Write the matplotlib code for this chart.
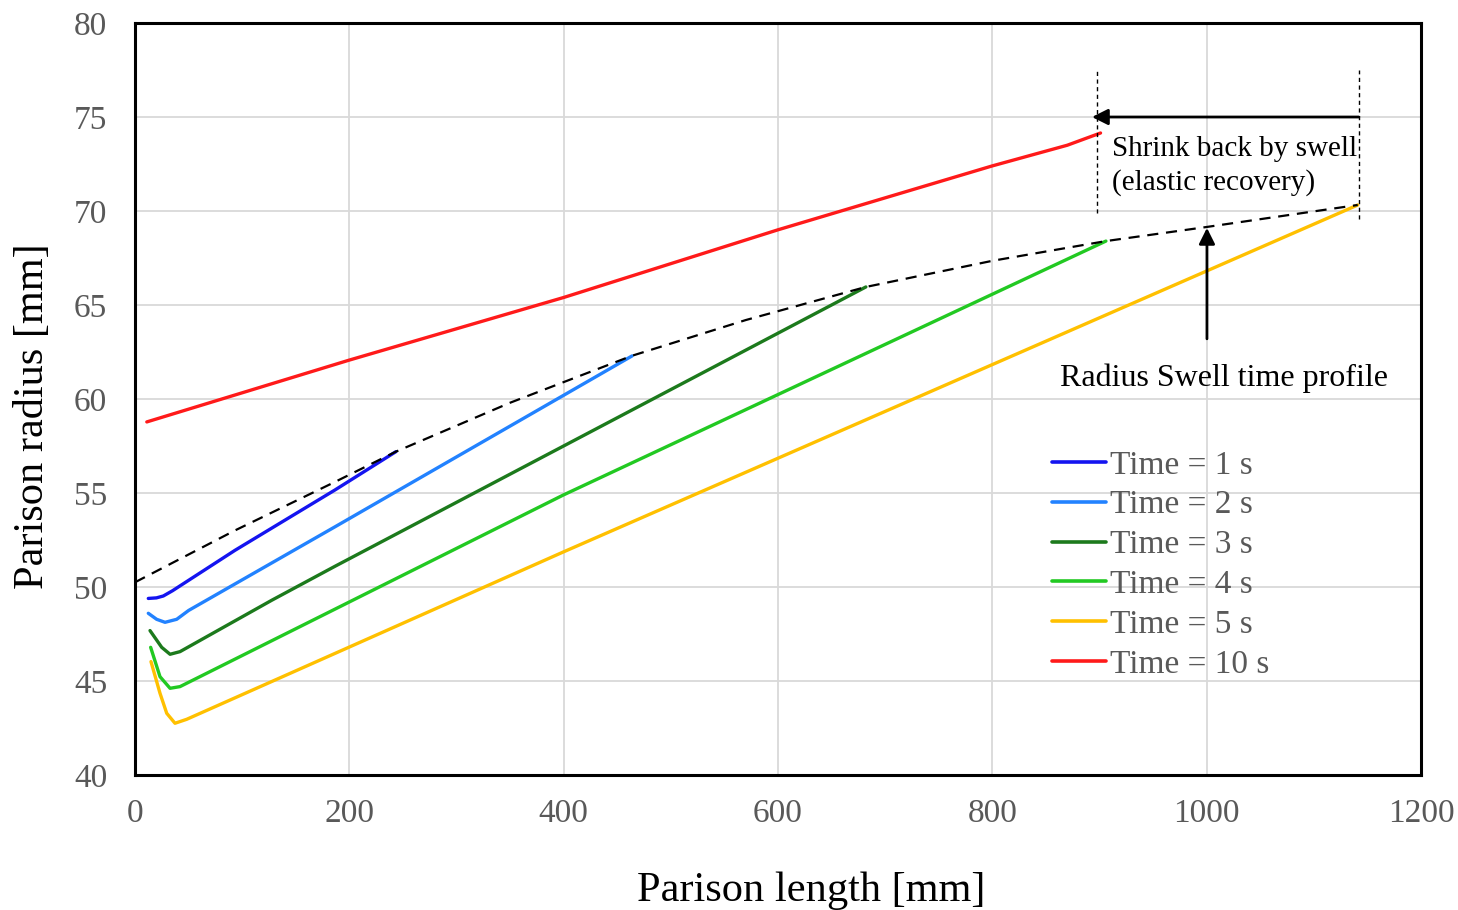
import matplotlib
matplotlib.use("Agg")
import matplotlib.pyplot as plt

plt.rcParams['font.family'] = ['Liberation Serif', 'DejaVu Serif']

# Parison radius profiles at successive extrusion times
x_t1 = [12.4, 20, 26.4, 35, 93.3, 186.6, 243.5]
y_t1 = [49.39, 49.42, 49.52, 49.8, 51.95, 55.16, 57.2]

x_t2 = [12.4, 20.2, 28, 38.9, 50, 186.6, 463.8]
y_t2 = [48.6, 48.28, 48.12, 48.28, 48.75, 53.2, 62.29]

x_t3 = [14, 24.9, 32.7, 42, 127.8, 186.6, 682]
y_t3 = [47.68, 46.79, 46.42, 46.56, 49.3, 51.1, 65.96]

x_t4 = [14.6, 23.3, 32.7, 42, 399.6, 906]
y_t4 = [46.79, 45.23, 44.61, 44.7, 54.89, 68.4]

x_t5 = [14.9, 23.3, 29.6, 37.3, 48.2, 399.6, 1141]
y_t5 = [46.03, 44.35, 43.28, 42.75, 42.96, 51.86, 70.32]

x_t10 = [11, 200, 400, 600, 800, 870, 901]
y_t10 = [58.78, 62.07, 65.4, 69.0, 72.4, 73.5, 74.15]

# Envelope of the free end (radius swell over time)
x_env = [0, 93, 187, 243.5, 350, 463.8, 570, 682, 800, 906, 1000, 1141]
y_env = [50.25, 53.0, 55.6, 57.2, 59.8, 62.3, 64.2, 65.96, 67.35, 68.4, 69.15, 70.32]

series = [
    (x_t1, y_t1, "#1414F0", "Time = 1 s"),
    (x_t2, y_t2, "#2282FF", "Time = 2 s"),
    (x_t3, y_t3, "#1C7A1C", "Time = 3 s"),
    (x_t4, y_t4, "#22C922", "Time = 4 s"),
    (x_t5, y_t5, "#FFC000", "Time = 5 s"),
    (x_t10, y_t10, "#FF1A1A", "Time = 10 s"),
]

x_ticks = [0, 200, 400, 600, 800, 1000, 1200]
y_ticks = [40, 45, 50, 55, 60, 65, 70, 75, 80]

fig = plt.figure(figsize=(14.58, 9.1), dpi=100)
ax = fig.add_axes([0.0926, 0.1484, 0.882, 0.8263])

for xs, ys, c, lab in series:
    ax.plot(xs, ys, color=c, lw=2.4, label=lab,
            solid_joinstyle='round', solid_capstyle='round')

ax.plot(x_env, y_env, color='black', lw=1.6, dashes=(5, 3.5))

ax.set_xlim(0, 1200)
ax.set_ylim(40, 80)
ax.set_xticks(x_ticks)
ax.set_yticks(y_ticks)
ax.grid(True, color='#d9d9d9', lw=1.3)
ax.set_axisbelow(True)
ax.tick_params(length=0, labelsize=24, labelcolor='#595959')
ax.tick_params(axis='x', pad=17)
ax.tick_params(axis='y', pad=20)
for s in ax.spines.values():
    s.set_linewidth(2.2)
    s.set_color('black')

ax.set_xlabel("Parison length [mm]", fontsize=30.5)
ax.set_ylabel("Parison radius [mm]", fontsize=30.5)
ax.xaxis.set_label_coords((811 - 135) / 1286, -0.128)
ax.yaxis.set_label_coords((52 - 135) / 1286, 0.4774)

# Shrink-back marker: dotted bounds and horizontal arrow
ax.plot([897.6, 897.6], [69.9, 77.6], color='black', lw=1.0, dashes=(3, 2.5))
ax.plot([1142, 1142], [69.6, 77.5], color='black', lw=1.0, dashes=(3, 2.5))
ax.annotate("", xy=(893, 75.0), xytext=(1142, 75.0),
            arrowprops=dict(arrowstyle='-|>', color='black', lw=2.0,
                            mutation_scale=24, shrinkA=0, shrinkB=0))
ax.text(912, 72.4, "Shrink back by swell\n(elastic recovery)", fontsize=21,
        ha='left', va='center', linespacing=1.35)

# Swell profile pointer
ax.annotate("", xy=(1000.3, 69.1), xytext=(1000.3, 63.2),
            arrowprops=dict(arrowstyle='-|>', color='black', lw=2.0,
                            mutation_scale=24, shrinkA=0, shrinkB=0))
ax.text(1016, 61.1, "Radius Swell time profile", fontsize=23,
        ha='center', va='center')

leg = ax.legend(loc='upper left', bbox_to_anchor=(1052 / 1458, 1 - 450 / 910),
                bbox_transform=fig.transFigure, frameon=False, fontsize=24,
                handlelength=1.62, handletextpad=0.12, labelspacing=0.28,
                borderpad=0, borderaxespad=0)
for t in leg.get_texts():
    t.set_color('#595959')
for h in leg.get_lines():
    h.set_linewidth(2.6)

fig.savefig("out.png", dpi=100)
